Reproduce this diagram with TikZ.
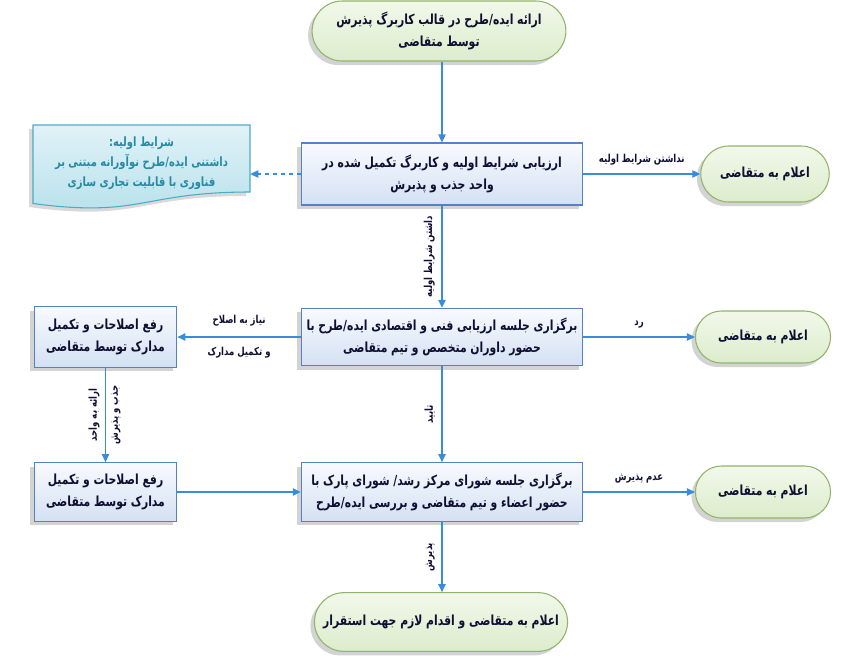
\documentclass[tikz,border=0pt]{standalone}
\usepackage{fontspec}
\usepackage{xcolor}
\usepackage{tikz}
\usetikzlibrary{arrows.meta,shapes.misc,shadows,calc}
\newfontfamily\farsi[Script=Arabic, FakeStretch=0.78]{DejaVu Sans}
\TeXXeTstate=1
\newcommand{\rl}[1]{\beginR #1\endR}
\definecolor{boxline}{RGB}{84,130,196}
\definecolor{boxtop}{RGB}{248,250,254}
\definecolor{boxbot}{RGB}{212,225,243}
\definecolor{termline}{RGB}{145,180,105}
\definecolor{termtop}{RGB}{242,248,234}
\definecolor{termbot}{RGB}{220,236,204}
\definecolor{docline}{RGB}{75,172,198}
\definecolor{doctop}{RGB}{224,242,247}
\definecolor{docbot}{RGB}{183,224,235}
\definecolor{doctext}{RGB}{38,138,163}
\definecolor{flowblue}{RGB}{56,140,220}
\definecolor{ink}{RGB}{15,15,50}

\begin{document}
\begin{tikzpicture}[x=0.75pt, y=-0.75pt,
  txt/.style={font=\farsi\bfseries\fontsize{10.4}{16.5}\selectfont, text=ink, align=center},
  procbox/.style={txt, draw=boxline, line width=0.8pt, top color=boxtop, bottom color=boxbot,
    minimum width=211pt, minimum height=45pt,
    drop shadow={shadow xshift=-3pt, shadow yshift=-3pt, opacity=.35}},
  sidebox/.style={procbox, minimum width=107pt},
  term/.style={txt, rounded rectangle, draw=termline, line width=0.8pt, top color=termtop,
    bottom color=termbot, minimum height=42pt,
    drop shadow={shadow xshift=-3pt, shadow yshift=-3pt, opacity=.35}},
  flow/.style={draw=flowblue, line width=1pt, -{Triangle[length=6pt,width=5.5pt]}},
  lab/.style={font=\farsi\bfseries\fontsize{8.2}{9}\selectfont, text=ink}]
  \useasboundingbox (0,0) rectangle (850,662);

  % Nodes
  \node[term, minimum width=197pt, minimum height=45pt] (start) at (439,31)
    {\rl{ارائه ایده/طرح در قالب کاربرگ پذیرش}\\\rl{توسط متقاضی}};
  \node[procbox, minimum height=46.5pt] (eval) at (442,174)
    {\rl{ارزیابی شرایط اولیه و کاربرگ تکمیل شده در}\\\rl{واحد جذب و پذیرش}};
  \node[term, minimum width=103pt] (rej1) at (765,174) {\rl{اعلام به متقاضی}};

  % Note
  \fill[gray, opacity=.3] (29,129) -- (246,129) -- (246,196)
    .. controls (137,196) and (137,222) .. (29,207) -- cycle;
  \draw[docline, line width=0.8pt, top color=doctop, bottom color=docbot]
    (33,125) -- (250,125) -- (250,192)
    .. controls (141.5,192) and (141.5,218) .. (33,203.5) -- cycle;
  \node[txt, text=doctext, font=\farsi\bfseries\fontsize{9.6}{15}\selectfont,
    minimum width=162.75pt, minimum height=50pt] (doc) at (141.5,163)
    {\rl{شرایط اولیه:}\\\rl{داشتنی ایده/طرح نوآورانه مبتنی بر}\\\rl{فناوری با قابلیت تجاری سازی}};

  \node[procbox, minimum height=43pt] (tech) at (442,337)
    {\rl{برگزاری جلسه ارزیابی فنی و اقتصادی ایده/طرح با}\\\rl{حضور داوران متخصص و تیم متقاضی}};
  \node[term, minimum width=108pt, minimum height=39pt] (rej2) at (763,337) {\rl{اعلام به متقاضی}};
  \node[sidebox, minimum height=45.5pt] (fixa) at (105.5,337)
    {\rl{رفع اصلاحات و تکمیل}\\\rl{مدارک توسط متقاضی}};

  \node[sidebox, minimum height=44pt] (fixb) at (105.5,492)
    {\rl{رفع اصلاحات و تکمیل}\\\rl{مدارک توسط متقاضی}};
  \node[procbox, minimum height=44pt] (board) at (442,492)
    {\rl{برگزاری جلسه شورای مرکز رشد/ شورای پارک با}\\\rl{حضور اعضاء و تیم متقاضی و بررسی ایده/طرح}};
  \node[term, minimum width=108pt, minimum height=39pt] (rej3) at (763,492) {\rl{اعلام به متقاضی}};

  \node[term, minimum width=196.5pt, minimum height=44pt] (done) at (441,622)
    {\rl{اعلام به متقاضی و اقدام لازم جهت استقرار}};

  % Connectors
  \draw[flow] (start.south -| eval.north) -- (eval.north);
  \draw[flow, dashed] (eval.west) -- (eval.west -| doc.east);
  \draw[flow] (eval) -- (rej1) node[midway, above=3pt, lab] {\rl{نداشتن شرایط اولیه}};
  \draw[flow] (eval) -- (tech)
    node[midway, lab, rotate=90, anchor=south, inner sep=5pt] {\rl{داشتن شرایط اولیه}};
  \draw[flow] (tech) -- (rej2) node[midway, above=3pt, lab] {\rl{رد}};
  \draw[flow] (tech) -- (fixa)
    node[midway, above=4pt, lab] {\rl{نیاز به اصلاح}}
    node[midway, below=4pt, lab] {\rl{و تکمیل مدارک}};
  \draw[flow] (fixa) -- (fixb)
    node[midway, lab, rotate=90, anchor=south, inner sep=4pt] {\rl{ارائه به واحد}}
    node[midway, lab, rotate=90, anchor=north, inner sep=4pt] {\rl{جذب و پذیرش}};
  \draw[flow] (tech) -- (board)
    node[midway, lab, rotate=90, anchor=south, inner sep=5pt] {\rl{تایید}};
  \draw[flow] (fixb) -- (board);
  \draw[flow] (board) -- (rej3) node[midway, above=3pt, lab] {\rl{عدم پذیرش}};
  \draw[flow] (board.south) -- (board.south |- done.north)
    node[midway, lab, rotate=90, anchor=south, inner sep=5pt] {\rl{پذیرش}};
\end{tikzpicture}
\end{document}
